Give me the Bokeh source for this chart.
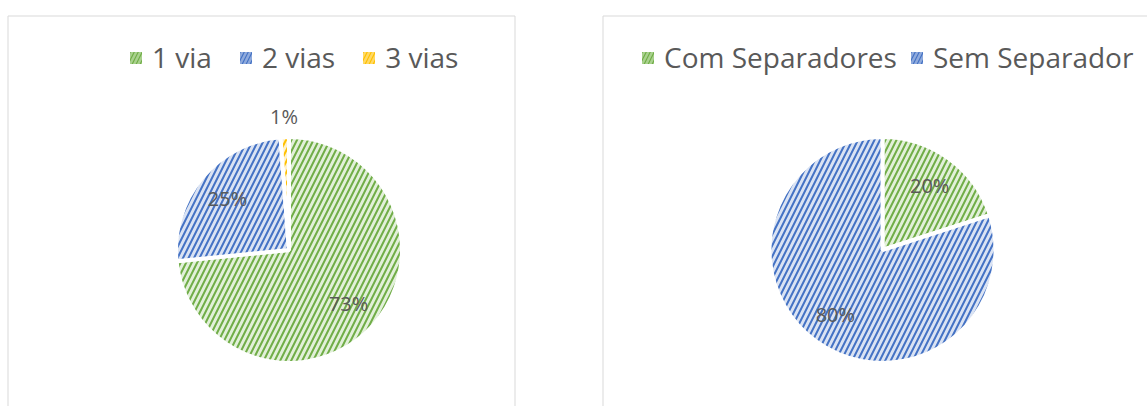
import math
from bokeh.plotting import figure
from bokeh.models import ColumnDataSource, Range1d, Legend, LegendItem
from bokeh.core.properties import value
from bokeh.embed import file_html
from bokeh.resources import INLINE

# ---- data ----
cats_left = ["1 via", "2 vias", "3 vias"]
vals_left = [73.4, 25.4, 1.2]
cats_right = ["Com Separadores", "Sem Separador"]
vals_right = [20.0, 80.0]

FILLS = ["#E2F0D9", "#DAE3F3", "#FFF2CC"]
LEG_FILLS = ["#A9D18E", "#8FAADC", "#FFD966"]
HATCH = ["#70AD47", "#4472C4", "#FFC000"]
TEXT = "#595959"
FONT = "Open Sans"

W, H = 1147, 406


def Y(py):
    return H - py


p = figure(width=W, height=H, x_range=Range1d(0, W), y_range=Range1d(0, H),
           output_backend="svg", toolbar_location=None, min_border=0)
p.axis.visible = False
p.grid.visible = False
p.outline_line_color = None
p.background_fill_color = "white"

# panel borders
p.quad(left=[7.5, 602.5], right=[514.5, 1170], top=[Y(15.5), Y(15.5)], bottom=[-20, -20],
       fill_color=None, line_color="#D9D9D9", line_width=1)


def pie(cats, vals, cx, cy, r):
    total = sum(vals)
    starts, ends, lx, ly, labels = [], [], [], [], []
    acc = 0.0
    for v in vals:
        a0 = math.pi / 2 - acc / total * 2 * math.pi
        acc += v
        a1 = math.pi / 2 - acc / total * 2 * math.pi
        starts.append(a0)
        ends.append(a1)
        mid = (a0 + a1) / 2
        share = v / total
        rr = r * 0.71 if share > 0.05 else r + 21
        lx.append(cx + rr * math.cos(mid))
        ly.append(cy + rr * math.sin(mid))
        labels.append(f"{round(share * 100)}%")
    n = len(vals)
    nan = float("nan")
    src = ColumnDataSource(dict(cat=cats, start=starts, end=ends,
                                fill=FILLS[:n], lfill=LEG_FILLS[:n], hatch=HATCH[:n],
                                lx=lx, ly=ly, label=labels, nanv=[nan] * n))
    p.wedge(x=cx, y=cy, radius=r, start_angle="start", end_angle="end", direction="clock",
            fill_color="fill", hatch_pattern="/", hatch_color="hatch", hatch_scale=11,
            hatch_weight=2, line_color="white", line_width=4, source=src)
    p.text(x="lx", y="ly", text="label", source=src, text_align="center", text_baseline="middle",
           text_font=value(FONT), text_font_size="20px", text_color=TEXT)
    # legend swatches (no visible mark in the plot area)
    proxy = p.quad(left="nanv", right="nanv", top="nanv", bottom="nanv", source=src,
                   fill_color="lfill", hatch_pattern="/", hatch_color="hatch", hatch_scale=8,
                   hatch_weight=1.2, line_color=None)
    return proxy


pl = pie(cats_left, vals_left, 288.5, Y(249.5), 113)
pr = pie(cats_right, vals_right, 882, Y(249.5), 113)


def legend(renderer, cats, x, y, spacing):
    lg = Legend(items=[LegendItem(label=c, renderers=[renderer], index=i) for i, c in enumerate(cats)],
                orientation="horizontal", location=(x, y), padding=0, margin=0, spacing=spacing,
                label_standoff=9, glyph_width=15, glyph_height=15,
                label_text_font=FONT, label_text_font_size="28px", label_text_color=TEXT,
                border_line_color=None, background_fill_alpha=0)
    p.add_layout(lg, "center")


legend(pl, cats_left, 128, Y(76), 26)
legend(pr, cats_right, 640, Y(76), 12)

open("out.html", "w").write(file_html(p, INLINE))
